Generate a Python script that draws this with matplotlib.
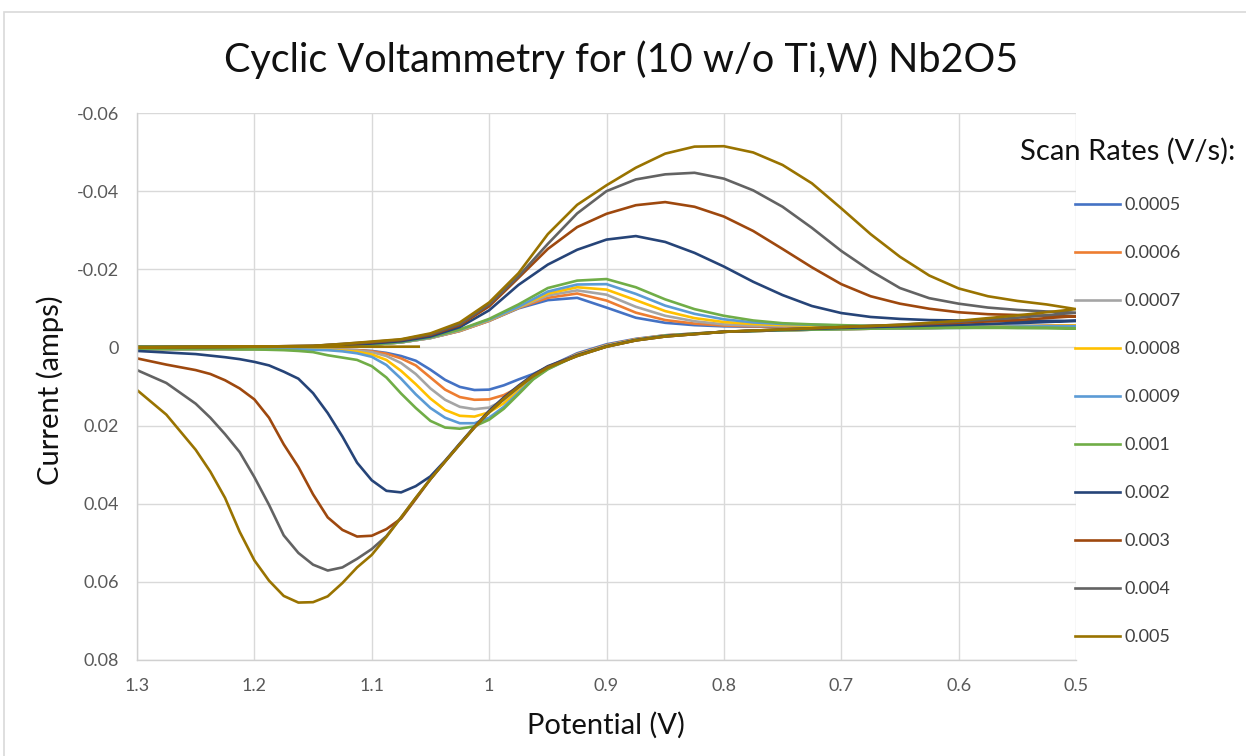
import matplotlib
matplotlib.use("Agg")
import matplotlib.pyplot as plt
from matplotlib.patches import Rectangle

# ---------------- data ----------------
scan_rates = ["0.0005", "0.0006", "0.0007", "0.0008", "0.0009",
              "0.001", "0.002", "0.003", "0.004", "0.005"]
colors = ["#4472C4", "#ED7D31", "#A5A5A5", "#FFC000", "#5B9BD5",
          "#70AD47", "#264478", "#9E480E", "#636363", "#997300"]

x_ticks = [1.3, 1.2, 1.1, 1.0, 0.9, 0.8, 0.7, 0.6, 0.5]
x_tick_labels = ["1.3", "1.2", "1.1", "1", "0.9", "0.8", "0.7", "0.6", "0.5"]
y_ticks = [-0.06, -0.04, -0.02, 0.0, 0.02, 0.04, 0.06, 0.08]
y_tick_labels = ["-0.06", "-0.04", "-0.02", "0", "0.02", "0.04", "0.06", "0.08"]

# potential of the return sweep (1.3 V -> 0.5 V, upper branch)
E_upper = [1.30, 1.25, 1.20, 1.15, 1.125, 1.10, 1.075, 1.05, 1.025, 1.00,
           0.975, 0.95, 0.925, 0.90, 0.875, 0.85, 0.825, 0.80,
           0.775, 0.75, 0.725, 0.70, 0.675, 0.65, 0.625, 0.60, 0.575, 0.55, 0.525, 0.50]
# potential of the forward sweep (0.5 V -> 1.3 V, lower branch)
E_lower = [0.50, 0.55, 0.60, 0.65, 0.70, 0.75, 0.80, 0.85, 0.875, 0.90, 0.925, 0.95,
           0.9625, 0.975, 0.9875, 1.00, 1.0125, 1.025, 1.0375, 1.05, 1.0625, 1.075,
           1.0875, 1.10, 1.1125, 1.125, 1.1375, 1.15, 1.1625, 1.175, 1.1875, 1.20,
           1.2125, 1.225, 1.2375, 1.25, 1.275, 1.30]

I_up_0005 = [-0.0002, -0.0002, -0.0002, -0.0002, -0.0004, -0.0007, -0.0013, -0.0024, -0.0042, -0.0068,
             -0.0100, -0.0121, -0.0127, -0.0102, -0.0076, -0.0063, -0.0057, -0.0054,
             -0.0053, -0.0053, -0.0053, -0.0053, -0.0053, -0.0053, -0.0054, -0.0054, -0.0054, -0.0055, -0.0055, -0.0056]
I_up_0006 = [-0.0002, -0.0002, -0.0002, -0.0002, -0.0004, -0.0007, -0.0013, -0.0024, -0.0042, -0.0068,
             -0.0101, -0.0127, -0.0138, -0.0120, -0.0089, -0.0070, -0.0061, -0.0056,
             -0.0054, -0.0054, -0.0053, -0.0053, -0.0053, -0.0053, -0.0053, -0.0054, -0.0054, -0.0054, -0.0055, -0.0056]
I_up_0007 = [-0.0002, -0.0002, -0.0002, -0.0002, -0.0004, -0.0007, -0.0013, -0.0024, -0.0043, -0.0069,
             -0.0102, -0.0133, -0.0146, -0.0135, -0.0104, -0.0081, -0.0067, -0.0059,
             -0.0056, -0.0055, -0.0054, -0.0054, -0.0053, -0.0053, -0.0053, -0.0053, -0.0054, -0.0054, -0.0055, -0.0055]
I_up_0008 = [-0.0002, -0.0002, -0.0002, -0.0002, -0.0004, -0.0007, -0.0013, -0.0025, -0.0044, -0.0070,
             -0.0103, -0.0138, -0.0154, -0.0148, -0.0121, -0.0093, -0.0075, -0.0065,
             -0.0060, -0.0057, -0.0056, -0.0055, -0.0054, -0.0054, -0.0054, -0.0054, -0.0054, -0.0054, -0.0055, -0.0055]
I_up_0009 = [-0.0002, -0.0002, -0.0002, -0.0002, -0.0004, -0.0007, -0.0013, -0.0025, -0.0045, -0.0071,
             -0.0104, -0.0143, -0.0161, -0.0162, -0.0137, -0.0107, -0.0086, -0.0072,
             -0.0064, -0.0060, -0.0058, -0.0056, -0.0055, -0.0055, -0.0054, -0.0054, -0.0053, -0.0053, -0.0053, -0.0053]
I_up_001 = [-0.0002, -0.0002, -0.0002, -0.0002, -0.0004, -0.0007, -0.0014, -0.0026, -0.0046, -0.0073,
            -0.0110, -0.0152, -0.0171, -0.0175, -0.0154, -0.0123, -0.0098, -0.0081,
            -0.0069, -0.0062, -0.0059, -0.0057, -0.0055, -0.0054, -0.0053, -0.0052, -0.0051, -0.0050, -0.0050, -0.0049]
I_up_002 = [-0.0001, -0.0001, -0.0002, -0.0003, -0.0006, -0.0010, -0.0016, -0.0028, -0.0052, -0.0095,
            -0.0160, -0.0212, -0.0250, -0.0276, -0.0285, -0.0270, -0.0242, -0.0207,
            -0.0168, -0.0134, -0.0106, -0.0088, -0.0078, -0.0073, -0.0070, -0.0069, -0.0068, -0.0068, -0.0068, -0.0068]
I_up_003 = [0.0000, -0.0001, -0.0002, -0.0004, -0.0008, -0.0013, -0.0019, -0.0032, -0.0057, -0.0105,
            -0.0178, -0.0252, -0.0308, -0.0342, -0.0364, -0.0372, -0.0360, -0.0335,
            -0.0298, -0.0252, -0.0205, -0.0162, -0.0131, -0.0112, -0.0099, -0.0090, -0.0085, -0.0083, -0.0081, -0.0080]
I_up_004 = [0.0000, -0.0001, -0.0002, -0.0004, -0.0009, -0.0014, -0.0020, -0.0034, -0.0060, -0.0110,
            -0.0182, -0.0265, -0.0343, -0.0400, -0.0430, -0.0443, -0.0447, -0.0432,
            -0.0402, -0.0360, -0.0306, -0.0247, -0.0196, -0.0152, -0.0126, -0.0112, -0.0102, -0.0096, -0.0092, -0.0089]
I_up_005 = [0.0000, -0.0001, -0.0002, -0.0004, -0.0009, -0.0015, -0.0021, -0.0036, -0.0064, -0.0115,
            -0.0190, -0.0290, -0.0365, -0.0415, -0.0460, -0.0496, -0.0514, -0.0515,
            -0.0499, -0.0467, -0.0420, -0.0356, -0.0290, -0.0232, -0.0184, -0.0151, -0.0131, -0.0119, -0.0110, -0.0098]

I_lo_0005 = [-0.0056, -0.0053, -0.0051, -0.0049, -0.0047, -0.0044, -0.0040, -0.0031, -0.0022, -0.0008, 0.0015, 0.0050,
             0.0068, 0.0082, 0.0097, 0.0108, 0.0109, 0.0101, 0.0083, 0.0057, 0.0034, 0.0022,
             0.0014, 0.0009, 0.0007, 0.0006, 0.0005, 0.0005, 0.0004, 0.0004, 0.0004, 0.0004,
             0.0004, 0.0004, 0.0004, 0.0004, 0.0004, 0.0004]
I_lo_0006 = [-0.0056, -0.0053, -0.0051, -0.0049, -0.0047, -0.0044, -0.0040, -0.0031, -0.0021, -0.0006, 0.0017, 0.0052,
             0.0076, 0.0103, 0.0122, 0.0133, 0.0134, 0.0127, 0.0108, 0.0077, 0.0046, 0.0028,
             0.0016, 0.0010, 0.0007, 0.0006, 0.0005, 0.0005, 0.0004, 0.0004, 0.0004, 0.0004,
             0.0004, 0.0004, 0.0004, 0.0004, 0.0004, 0.0004]
I_lo_0007 = [-0.0055, -0.0053, -0.0051, -0.0049, -0.0047, -0.0044, -0.0040, -0.0030, -0.0020, -0.0005, 0.0018, 0.0053,
             0.0077, 0.0108, 0.0135, 0.0154, 0.0158, 0.0152, 0.0134, 0.0105, 0.0068, 0.0040,
             0.0022, 0.0012, 0.0008, 0.0006, 0.0005, 0.0005, 0.0004, 0.0004, 0.0004, 0.0004,
             0.0004, 0.0004, 0.0004, 0.0004, 0.0004, 0.0004]
I_lo_0008 = [-0.0055, -0.0053, -0.0051, -0.0049, -0.0047, -0.0044, -0.0040, -0.0030, -0.0020, -0.0004, 0.0019, 0.0054,
             0.0079, 0.0112, 0.0143, 0.0166, 0.0177, 0.0175, 0.0160, 0.0131, 0.0094, 0.0060,
             0.0032, 0.0018, 0.0011, 0.0008, 0.0006, 0.0005, 0.0005, 0.0004, 0.0004, 0.0004,
             0.0004, 0.0004, 0.0004, 0.0004, 0.0004, 0.0004]
I_lo_0009 = [-0.0053, -0.0052, -0.0050, -0.0049, -0.0047, -0.0044, -0.0040, -0.0030, -0.0019, -0.0003, 0.0020, 0.0055,
             0.0080, 0.0116, 0.0152, 0.0180, 0.0194, 0.0194, 0.0180, 0.0155, 0.0120, 0.0080,
             0.0045, 0.0024, 0.0015, 0.0010, 0.0007, 0.0006, 0.0005, 0.0005, 0.0004, 0.0004,
             0.0004, 0.0004, 0.0004, 0.0004, 0.0004, 0.0004]
I_lo_001 = [-0.0049, -0.0050, -0.0050, -0.0049, -0.0047, -0.0044, -0.0040, -0.0030, -0.0019, -0.0003, 0.0020, 0.0056,
            0.0082, 0.0120, 0.0157, 0.0185, 0.0202, 0.0208, 0.0205, 0.0188, 0.0155, 0.0118,
            0.0077, 0.0048, 0.0032, 0.0026, 0.0020, 0.0012, 0.0009, 0.0007, 0.0006, 0.0005,
            0.0005, 0.0004, 0.0004, 0.0004, 0.0004, 0.0004]
I_lo_002 = [-0.0068, -0.0062, -0.0058, -0.0054, -0.0050, -0.0045, -0.0040, -0.0029, -0.0019, -0.0003, 0.0020, 0.0048,
            0.0070, 0.0098, 0.0128, 0.0162, 0.0203, 0.0246, 0.0290, 0.0330, 0.0355, 0.0371,
            0.0367, 0.0340, 0.0295, 0.0228, 0.0168, 0.0117, 0.0080, 0.0062, 0.0046, 0.0037,
            0.0030, 0.0025, 0.0021, 0.0017, 0.0013, 0.0009]
I_lo_003 = [-0.0080, -0.0070, -0.0063, -0.0057, -0.0052, -0.0046, -0.0040, -0.0028, -0.0018, -0.0002, 0.0021, 0.0050,
            0.0072, 0.0100, 0.0131, 0.0165, 0.0204, 0.0248, 0.0292, 0.0337, 0.0388, 0.0438,
            0.0465, 0.0482, 0.0484, 0.0467, 0.0435, 0.0376, 0.0306, 0.0248, 0.0180, 0.0133,
            0.0105, 0.0084, 0.0068, 0.0058, 0.0044, 0.0028]
I_lo_004 = [-0.0089, -0.0076, -0.0066, -0.0058, -0.0052, -0.0046, -0.0040, -0.0028, -0.0018, -0.0002, 0.0022, 0.0051,
            0.0073, 0.0101, 0.0132, 0.0166, 0.0205, 0.0248, 0.0292, 0.0337, 0.0385, 0.0435,
            0.0483, 0.0516, 0.0541, 0.0563, 0.0571, 0.0556, 0.0526, 0.0481, 0.0403, 0.0332,
            0.0268, 0.0222, 0.0180, 0.0144, 0.0091, 0.0058]
I_lo_005 = [-0.0098, -0.0082, -0.0068, -0.0058, -0.0052, -0.0046, -0.0040, -0.0028, -0.0018, -0.0002, 0.0022, 0.0052,
            0.0074, 0.0102, 0.0132, 0.0166, 0.0205, 0.0248, 0.0292, 0.0337, 0.0385, 0.0435,
            0.0485, 0.0531, 0.0563, 0.0603, 0.0637, 0.0652, 0.0653, 0.0636, 0.0597, 0.0545,
            0.0472, 0.0385, 0.0318, 0.0262, 0.0172, 0.0109]

# initial segment of the 0.005 V/s scan (start potential up to 1.3 V)
E_start_005 = [1.06, 1.30]
I_start_005 = [-0.0002, -0.0001]

upper_sets = [I_up_0005, I_up_0006, I_up_0007, I_up_0008, I_up_0009,
              I_up_001, I_up_002, I_up_003, I_up_004, I_up_005]
lower_sets = [I_lo_0005, I_lo_0006, I_lo_0007, I_lo_0008, I_lo_0009,
              I_lo_001, I_lo_002, I_lo_003, I_lo_004, I_lo_005]

# ---------------- figure ----------------
plt.rcParams['font.family'] = ['Lato', 'DejaVu Sans']
W, H = 1246, 756
fig = plt.figure(figsize=(W / 100, H / 100), dpi=100)
fig.patch.set_facecolor('white')
fig.add_artist(Rectangle((4 / W, -0.05), 1.2, 1 - 12 / H + 0.05,
                         transform=fig.transFigure, fill=False,
                         edgecolor='#d9d9d9', lw=1.2))

ax = fig.add_axes([137 / W, 1 - 660 / H, (1076 - 137) / W, (660 - 113) / H])

for k, (lab, col) in enumerate(zip(scan_rates, colors)):
    E = E_upper + E_lower
    I = upper_sets[k] + lower_sets[k]
    if lab == "0.005":
        E = E_start_005 + E
        I = I_start_005 + I
    ax.plot(E, I, color=col, lw=1.9, label=lab, solid_joinstyle='round')

ax.set_xlim(1.3, 0.5)
ax.set_ylim(0.08, -0.06)
ax.set_xticks(x_ticks)
ax.set_xticklabels(x_tick_labels)
ax.set_yticks(y_ticks)
ax.set_yticklabels(y_tick_labels)
ax.grid(True, color='#d9d9d9', lw=1.0)
ax.set_axisbelow(True)
for s in ['top', 'right']:
    ax.spines[s].set_visible(False)
for s in ['left', 'bottom']:
    ax.spines[s].set_color('#d0d0d0')
    ax.spines[s].set_linewidth(1.0)
ax.tick_params(length=0, labelsize=13, colors='#595959', pad=13)

fig.text(621 / W, 1 - 60 / H, "Cyclic Voltammetry for (10 w/o Ti,W) Nb2O5",
         ha='center', va='center', fontsize=28.5, color='#111111')
fig.text(606 / W, 1 - 725 / H, "Potential (V)", ha='center', va='center',
         fontsize=21, color='#111111')
fig.text(50 / W, 1 - 390 / H, "Current (amps)", ha='center', va='center',
         rotation=90, fontsize=21, color='#111111')

leg = ax.legend(loc='upper left', bbox_to_anchor=(1020 / W, 1 - 138 / H),
                bbox_transform=fig.transFigure, frameon=False,
                title="Scan Rates (V/s):", title_fontsize=21, fontsize=13,
                handlelength=2.5, handletextpad=0.22, labelspacing=1.775,
                borderaxespad=0, borderpad=0)
for t in leg.get_texts():
    t.set_color('#404040')
leg.get_title().set_color('#111111')

fig.savefig("out.png", dpi=100)
